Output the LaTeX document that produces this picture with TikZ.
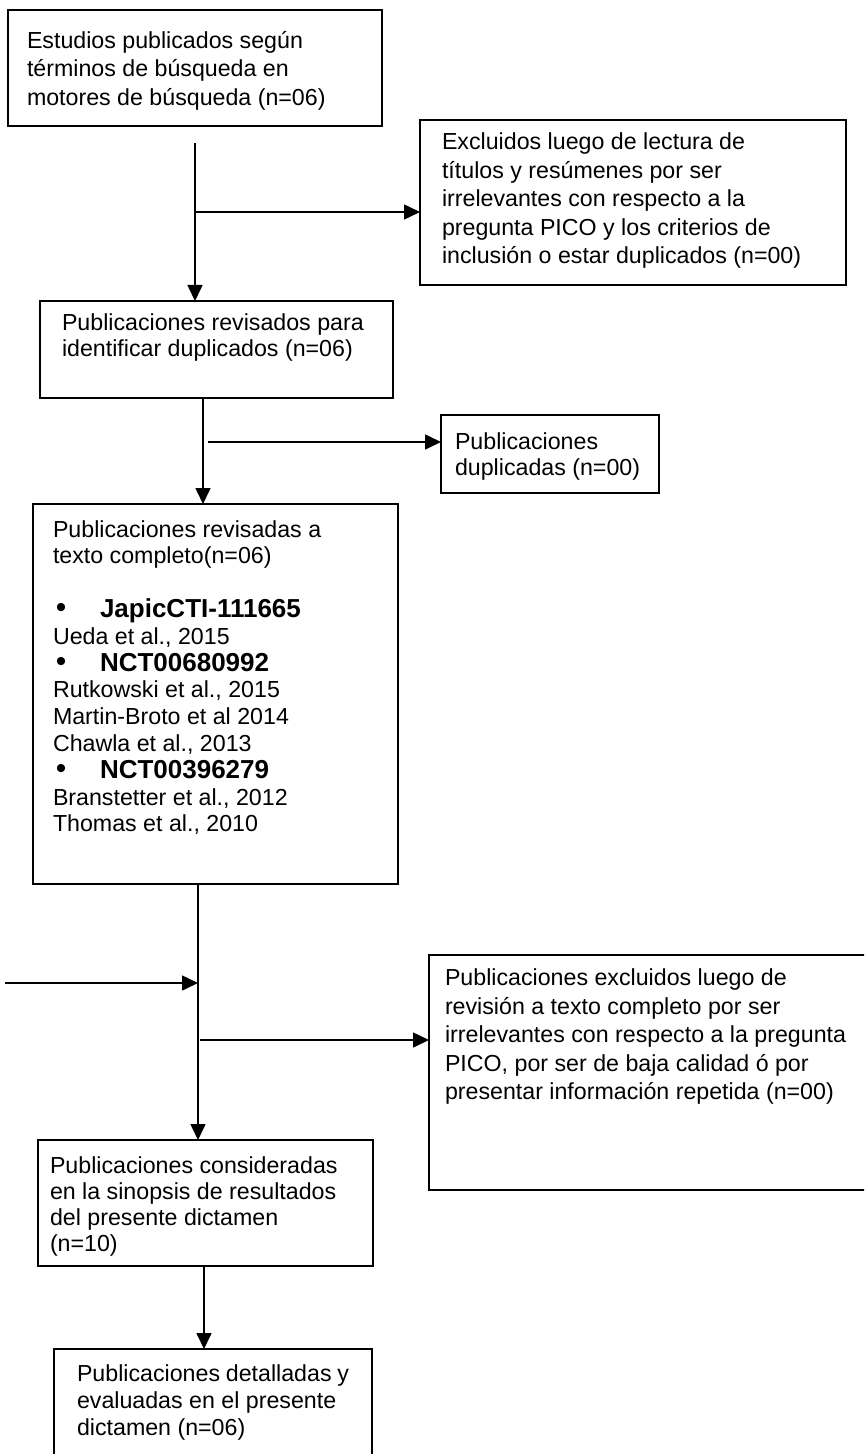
\documentclass[tikz,border=0pt]{standalone}
\usepackage{fontspec}
\setmainfont{Liberation Sans}
\usetikzlibrary{arrows.meta}

\tikzset{
  stagebox/.style={draw, line width=0.9pt, anchor=north west, inner ysep=0pt, outer sep=0pt,
    font=\fontsize{11.6}{#1}\selectfont},
  stagebox/.default=13.4,
  flow/.style={line width=0.8pt, -{Triangle[length=8pt,width=7.5pt]}}
}
\newcommand{\boxtext}[4]{\parbox[c][#2][t]{#1}{\vspace*{#3}\raggedright\strut#4}}
\newcommand{\bul}[1]{\hspace*{1.5pt}\makebox[22pt][l]{\fontsize{15}{13.4}\selectfont •}{\bfseries\fontsize{13}{13.4}\selectfont #1}}

\begin{document}
\begin{tikzpicture}[x=0.5pt,y=-0.5pt]
\useasboundingbox (0,0) rectangle (864,1454);
\clip (0,0) rectangle (864,1454);

\node[stagebox=14.2, inner xsep=9.5pt] (search) at (8,10)
  {\boxtext{168pt}{58pt}{9.3pt}{Estudios publicados según\\ términos de búsqueda en\\ motores de búsqueda (n=06)}};
\node[stagebox=14.25, inner xsep=11pt] (excltitle) at (420,120)
  {\boxtext{191pt}{82.5pt}{4.8pt}{Excluidos luego de lectura de\\ títulos y resúmenes por ser\\ irrelevantes con respecto a la\\ pregunta PICO y los criterios de\\ inclusión o estar duplicados (n=00)}};
\node[stagebox=13, inner xsep=11pt] (revdup) at (40,301)
  {\boxtext{154.5pt}{48.5pt}{5.6pt}{Publicaciones revisados para\\ identificar duplicados (n=06)}};
\node[stagebox=13.2, inner xsep=7pt] (dup) at (441,415)
  {\boxtext{95pt}{39pt}{8pt}{Publicaciones\\ duplicadas (n=00)}};
\node[stagebox=13.4, inner xsep=10pt] (fulltext) at (33,504)
  {\boxtext{162.5pt}{190pt}{7.2pt}{Publicaciones revisadas a\\ texto completo(n=06)\\[13.4pt]
   \bul{JapicCTI-111665}\\ Ueda et al., 2015\\
   \bul{NCT00680992}\\ Rutkowski et al., 2015\\ Martin-Broto et al 2014\\ Chawla et al., 2013\\
   \bul{NCT00396279}\\ Branstetter et al., 2012\\ Thomas et al., 2010}};
\node[stagebox=14.3, inner xsep=8pt] (exclfull) at (429,955)
  {\boxtext{219.5pt}{117.5pt}{5.25pt}{Publicaciones excluidos luego de\\ revisión a texto completo por ser\\ irrelevantes con respecto a la pregunta\\ PICO, por ser de baja calidad ó por\\ presentar información repetida (n=00)}};
\node[stagebox=13, inner xsep=6pt] (synth) at (38,1140)
  {\boxtext{155.5pt}{63pt}{7.65pt}{Publicaciones consideradas\\ en la sinopsis de resultados\\ del presente dictamen\\ (n=10)}};
\node[stagebox=13.4, inner xsep=11.5pt] (final) at (54,1349)
  {\boxtext{136pt}{65pt}{6.9pt}{Publicaciones detalladas y\\ evaluadas en el presente\\ dictamen (n=06)}};

\coordinate (s1) at (195,143);
\coordinate (b1) at (195,212);
\draw[flow] (s1) -- (s1 |- revdup.north);
\draw[flow] (b1) -- (b1 -| excltitle.west);

\coordinate (s2) at (203,442);
\coordinate (b2) at (208,442);
\draw[flow] (revdup.south -| s2) -- (s2 |- fulltext.north);
\draw[flow] (b2) -- (b2 -| dup.west);

\coordinate (s3) at (198,1040);
\coordinate (b3) at (200,1040);
\coordinate (in3) at (5,983);
\draw[flow] (fulltext.south -| s3) -- (s3 |- synth.north);
\draw[flow] (in3) -- (in3 -| s3);
\draw[flow] (b3) -- (b3 -| exclfull.west);

\coordinate (s4) at (204,1300);
\draw[flow] (synth.south -| s4) -- (s4 |- final.north);
\end{tikzpicture}
\end{document}
